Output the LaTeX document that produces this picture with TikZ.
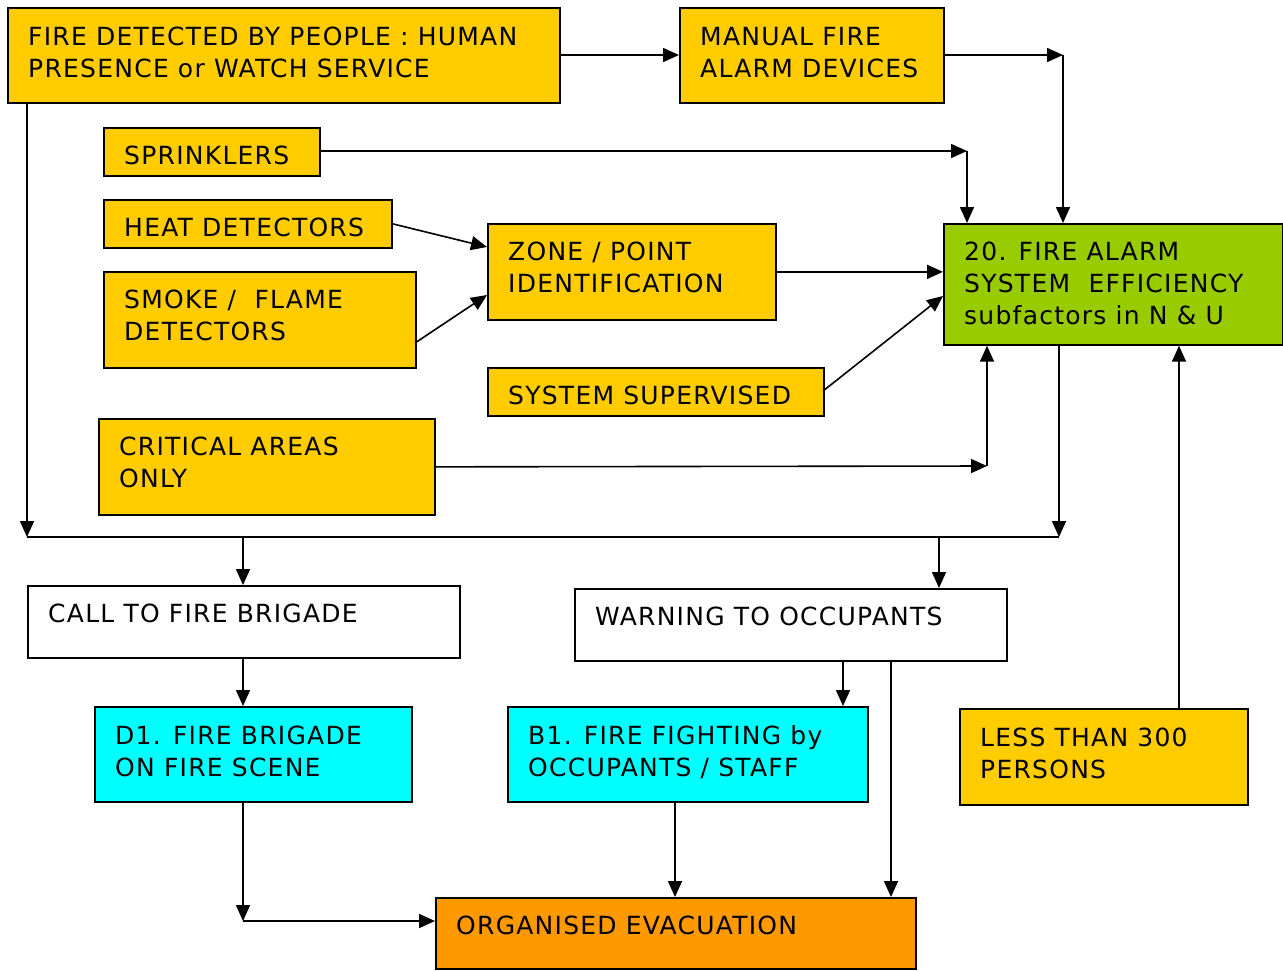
\documentclass[tikz,border=0pt]{standalone}
\usepackage{fontspec}
\setmainfont{DejaVu Sans}[LetterSpace=5]
\usetikzlibrary{arrows.meta}
\definecolor{cyel}{HTML}{FFCC00}
\definecolor{cgrn}{HTML}{99CC00}
\definecolor{ccyn}{HTML}{00FFFF}
\definecolor{corg}{HTML}{FF9900}
\newcommand{\boxtext}[1]{\fontsize{25}{32}\selectfont\begin{tabular}[t]{@{}l@{}}#1\end{tabular}}
\tikzset{
  fbox/.style={draw=black, line width=1.7pt, inner sep=0pt, anchor=north west},
  ybox/.style={fbox, fill=cyel},
  gbox/.style={fbox, fill=cgrn},
  cbox/.style={fbox, fill=ccyn},
  obox/.style={fbox, fill=corg},
  wbox/.style={fbox, fill=white},
  lbl/.style={inner sep=0pt, anchor=base west},
  conn/.style={line width=1.6pt, -{Triangle[length=16pt,width=14pt]}},
  wire/.style={line width=1.6pt},
}
\begin{document}
\begin{tikzpicture}[x=1pt,y=-1pt]
\useasboundingbox (0,0) rectangle (1283,970);
% boxes
\node[ybox, minimum width=552, minimum height=95] (fd) at (7,7) {};
\node[ybox, minimum width=264, minimum height=95] (mf) at (679,7) {};
\node[ybox, minimum width=216, minimum height=48] (sp) at (103,127) {};
\node[ybox, minimum width=288, minimum height=48] (hd) at (103,199) {};
\node[ybox, minimum width=312, minimum height=96] (sd) at (103,271) {};
\node[ybox, minimum width=288, minimum height=96] (zp) at (487,223) {};
\node[ybox, minimum width=336, minimum height=48] (ss) at (487,367) {};
\node[ybox, minimum width=336, minimum height=96] (ca) at (98,418) {};
\node[gbox, minimum width=339, minimum height=121] (fa) at (943,223) {};
\node[wbox, minimum width=432, minimum height=72] (cb) at (27,585) {};
\node[wbox, minimum width=432, minimum height=72] (wo) at (574,588) {};
\node[cbox, minimum width=317, minimum height=95] (d1) at (94,706) {};
\node[cbox, minimum width=360, minimum height=95] (b1) at (507,706) {};
\node[ybox, minimum width=288, minimum height=96] (lt) at (959,708) {};
\node[obox, minimum width=480, minimum height=71] (oe) at (435,897) {};
% texts
\node[lbl] (fdt) at ([xshift=21pt,yshift=-38pt]fd.north west) {\boxtext{FIRE DETECTED BY PEOPLE : HUMAN\\PRESENCE or WATCH SERVICE}};
\node[lbl] (mft) at ([xshift=21pt,yshift=-38pt]mf.north west) {\boxtext{MANUAL FIRE\\ALARM DEVICES}};
\node[lbl] (spt) at ([xshift=21pt,yshift=-37pt]sp.north west) {\boxtext{SPRINKLERS}};
\node[lbl] (hdt) at ([xshift=21pt,yshift=-37pt]hd.north west) {\boxtext{HEAT DETECTORS}};
\node[lbl] (sdt) at ([xshift=21pt,yshift=-37pt]sd.north west) {\boxtext{SMOKE / \ FLAME\\DETECTORS}};
\node[lbl] (zpt) at ([xshift=21pt,yshift=-37pt]zp.north west) {\boxtext{ZONE / POINT\\IDENTIFICATION}};
\node[lbl] (sst) at ([xshift=21pt,yshift=-37pt]ss.north west) {\boxtext{SYSTEM SUPERVISED}};
\node[lbl] (cat) at ([xshift=21pt,yshift=-37pt]ca.north west) {\boxtext{CRITICAL AREAS\\ONLY}};
\node[lbl] (fat) at ([xshift=21pt,yshift=-37pt]fa.north west) {\boxtext{20. FIRE ALARM\\SYSTEM \ EFFICIENCY\\subfactors in N \& U}};
\node[lbl] (cbt) at ([xshift=21pt,yshift=-37pt]cb.north west) {\boxtext{CALL TO FIRE BRIGADE}};
\node[lbl] (wot) at ([xshift=21pt,yshift=-37pt]wo.north west) {\boxtext{WARNING TO OCCUPANTS}};
\node[lbl] (d1t) at ([xshift=21pt,yshift=-38pt]d1.north west) {\boxtext{D1. FIRE BRIGADE\\ON FIRE SCENE}};
\node[lbl] (b1t) at ([xshift=21pt,yshift=-38pt]b1.north west) {\boxtext{B1. FIRE FIGHTING by\\OCCUPANTS / STAFF}};
\node[lbl] (ltt) at ([xshift=21pt,yshift=-38pt]lt.north west) {\boxtext{LESS THAN 300\\PERSONS}};
\node[lbl] (oet) at ([xshift=21pt,yshift=-37pt]oe.north west) {\boxtext{ORGANISED EVACUATION}};
% corner points of the connectors
\coordinate (mfc) at (1063,55);
\coordinate (spc) at (967,151);
\coordinate (cac) at (987,466);
\coordinate (busl) at (27,537);
\coordinate (busr) at (1059,537);
\coordinate (d1c) at (243,921);
% connectors
\draw[conn] (fd.east |- 0,55) -- (mf.west |- 0,55);
\draw[conn] (mf.east |- mfc) -- (mfc);
\draw[conn] (mfc) -- (mfc |- fa.north);
\draw[conn] (sp.east |- spc) -- (spc);
\draw[conn] (spc) -- (spc |- fa.north);
\draw[conn] (hd.east) -- (487,247);
\draw[conn] (415,343) -- (487,295);
\draw[conn] (zp.east) -- (zp.east -| fa.west);
\draw[conn] (823,391) -- (943,296);
\draw[conn] (ca.east) -- (cac);
\draw[conn] (cac) -- (cac |- fa.south);
\draw[conn] (27,102) -- (busl);
\draw[conn] (1059,344) -- (busr);
\draw[wire] (busl) -- (busr);
\draw[conn] (243,537) -- (cb.north -| 243,0);
\draw[conn] (939,537) -- (wo.north -| 939,0);
\draw[conn] (lt.north -| 1179,0) -- (fa.south -| 1179,0);
\draw[conn] (cb.south -| 243,0) -- (d1.north -| 243,0);
\draw[conn] (wo.south -| 843,0) -- (b1.north -| 843,0);
\draw[conn] (wo.south -| 891,0) -- (oe.north -| 891,0);
\draw[conn] (d1.south -| 243,0) -- (d1c);
\draw[conn] (d1c) -- (d1c -| oe.west);
\draw[conn] (b1.south -| 675,0) -- (oe.north -| 675,0);
\end{tikzpicture}
\end{document}
